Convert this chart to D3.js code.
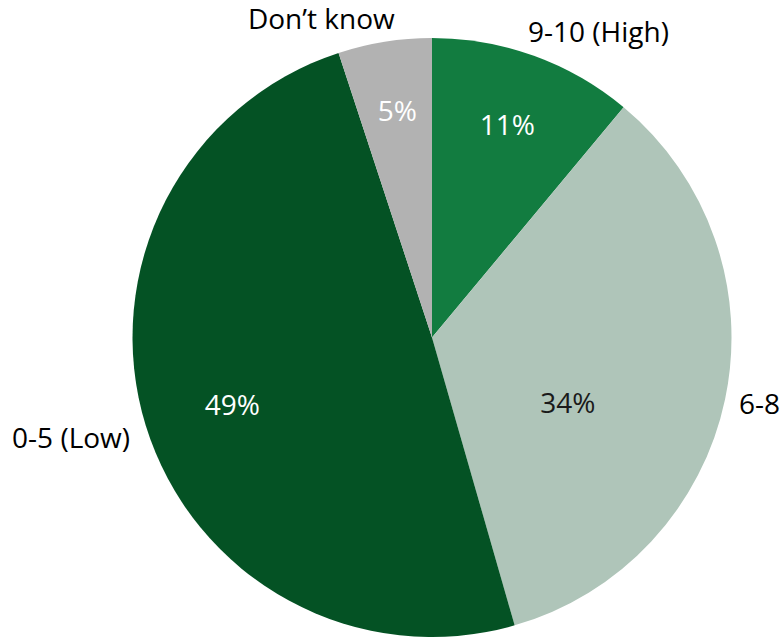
<!DOCTYPE html>
<html><head><meta charset="utf-8">
<script src="https://cdn.jsdelivr.net/npm/d3@7"></script>
<style>html,body{margin:0;padding:0;background:#fff;overflow:hidden}</style>
</head><body>
<svg id="chart" width="783" height="637"></svg>
<script>
const categories = ["9-10 (High)", "6-8", "0-5 (Low)", "Don\u2019t know"];
const values = [11.05, 34.5, 49.4, 5.05];
const valueLabels = ["11%", "34%", "49%", "5%"];
const colors = ["#127c40", "#afc5b9", "#045224", "#b2b2b2"];
const pctColors = ["#ffffff", "#1a1a1a", "#ffffff", "#ffffff"];
// layout: label placement (angle offset in degrees from slice middle, radius factor)
const outerLayout = [[8.6, 1.165], [-0.6, 1.115], [1.7, 1.25], [-10, 1.13]];
const innerLayout = [[-0.5, 0.757], [13.5, 0.502], [-1.3, 0.703], [0.4, 0.767]];

const svg = d3.select("#chart");
const cx = 432, cy = 337.5, r = 299.5;
const g = svg.append("g").attr("transform", `translate(${cx},${cy})`);
const pie = d3.pie().sort(null).value(d => d)(values);
const arc = d3.arc().innerRadius(0).outerRadius(r);
g.selectAll("path").data(pie).join("path")
  .attr("d", arc).attr("fill", (d, i) => colors[i]);

function pos(d, lay) {
  const a = (d.startAngle + d.endAngle) / 2 + lay[0] * Math.PI / 180;
  const rr = r * lay[1];
  return [Math.sin(a) * rr, -Math.cos(a) * rr];
}
const font = "'Open Sans', sans-serif";
g.selectAll("text.pct").data(pie).join("text").attr("class", "pct")
  .attr("x", (d, i) => pos(d, innerLayout[i])[0])
  .attr("y", (d, i) => pos(d, innerLayout[i])[1])
  .attr("text-anchor", "middle").attr("dominant-baseline", "central")
  .attr("font-family", font).attr("font-size", 28)
  .attr("fill", (d, i) => pctColors[i])
  .text((d, i) => valueLabels[i]);
g.selectAll("text.cat").data(pie).join("text").attr("class", "cat")
  .attr("x", (d, i) => pos(d, outerLayout[i])[0])
  .attr("y", (d, i) => pos(d, outerLayout[i])[1])
  .attr("text-anchor", "middle").attr("dominant-baseline", "central")
  .attr("font-family", font).attr("font-size", 28)
  .attr("fill", "#000")
  .text((d, i) => categories[i]);
</script>
</body></html>
